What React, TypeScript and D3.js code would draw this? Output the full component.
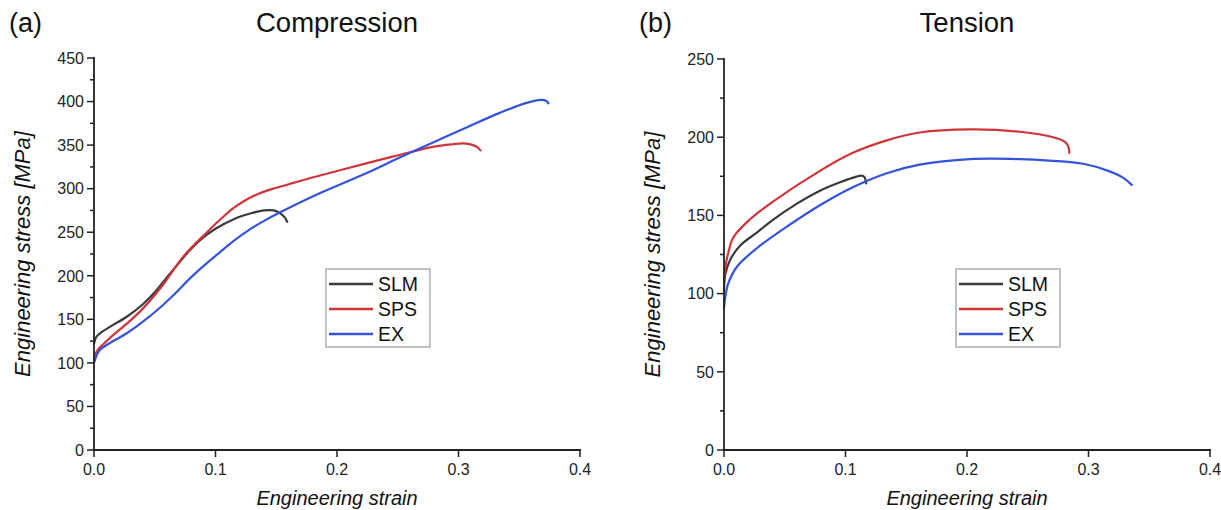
import React from "react";
import * as d3 from "d3";

// ---------- DATA ----------
const seriesNames = ["SLM", "SPS", "EX"];
const seriesColors = ["#3a3a3a", "#d0343a", "#3453dc"];

// Compression (a)
const compSLMStrain = [0, 0.002, 0.006, 0.015, 0.027, 0.04, 0.05, 0.06, 0.07, 0.08, 0.09, 0.1, 0.115, 0.13, 0.14, 0.148, 0.153, 0.157, 0.159];
const compSLMStress = [122, 130, 135, 143, 153, 167, 181, 198, 215, 231, 244, 254, 265, 272, 275, 275, 272, 267, 262];
const compSPSStrain = [0, 0.003, 0.008, 0.015, 0.027, 0.04, 0.057, 0.0735, 0.093, 0.105, 0.115, 0.125, 0.135, 0.15, 0.165, 0.183, 0.224, 0.252, 0.279, 0.295, 0.304, 0.312, 0.316, 0.318];
const compSPSStress = [106, 115, 122, 131, 145, 162, 190, 222, 250, 266, 278, 287, 294, 301, 307, 314, 329, 339, 348, 351, 352, 350, 347, 344];
const compEXStrain = [0, 0.002, 0.005, 0.012, 0.027, 0.04, 0.054, 0.067, 0.079, 0.09, 0.101, 0.115, 0.128, 0.14, 0.152, 0.183, 0.2245, 0.252, 0.279, 0.307, 0.334, 0.356, 0.368, 0.372, 0.374];
const compEXStress = [100, 108, 115, 122, 134, 147, 163, 180, 197, 211, 224, 240, 253, 263, 272, 293, 318, 336, 353, 370.5, 387, 398.5, 402, 401, 398];

// Tension (b)
const tensSLMStrain = [0, 0.001, 0.005, 0.013, 0.027, 0.04, 0.06, 0.079, 0.0955, 0.109, 0.113, 0.1155, 0.117];
const tensSLMStress = [102, 112, 121.5, 130.5, 139, 147, 157.5, 165.8, 171.2, 174.8, 175.4, 174.5, 170.5];
const tensSPSStrain = [0, 0.001, 0.002, 0.0035, 0.0077, 0.0214, 0.0406, 0.079, 0.106, 0.134, 0.161, 0.2025, 0.2436, 0.271, 0.2807, 0.2834, 0.2842];
const tensSPSStress = [108, 116, 121, 126, 136, 147.5, 159, 178.5, 190, 198, 203, 205, 203.5, 200, 197, 194, 190];
const tensEXStrain = [0, 0.0015, 0.0035, 0.0105, 0.027, 0.054, 0.08, 0.106, 0.134, 0.161, 0.2025, 0.2436, 0.268, 0.2957, 0.318, 0.3286, 0.3356];
const tensEXStress = [91, 100, 106.5, 117, 129, 144, 157, 168, 177, 182.5, 186, 186, 185, 183, 178, 174, 169.5];

const strainTicks = [0, 0.1, 0.2, 0.3, 0.4];
const compStressTicks = [0, 50, 100, 150, 200, 250, 300, 350, 400, 450];
const tensStressTicks = [0, 50, 100, 150, 200, 250];

const FONT = "'Liberation Sans', Arial, Helvetica, sans-serif";

type Series = { strain: number[]; stress: number[] };

type PanelProps = {
  letter: string;
  title: string;
  x0: number;
  x1: number;
  yTop: number;
  yBottom: number;
  yMax: number;
  yTicks: number[];
  series: Series[];
  legendX: number;
  legendY: number;
  letterX: number;
  yLabelX: number;
};

function Panel(p: PanelProps) {
  const x = d3.scaleLinear().domain([0, 0.4]).range([p.x0, p.x1]);
  const y = d3.scaleLinear().domain([0, p.yMax]).range([p.yBottom, p.yTop]);
  const line = d3
    .line<[number, number]>()
    .x((d) => x(d[0]))
    .y((d) => y(d[1]))
    .curve(d3.curveCatmullRom.alpha(0.5));
  const step = p.yTicks[1] - p.yTicks[0];
  const minor = p.yTicks.slice(0, -1).map((t) => t + step / 2);
  const cx = (p.x0 + p.x1) / 2;
  const axisColor = "#222";
  return (
    <g>
      <text x={p.letterX} y={32} fontFamily={FONT} fontSize={27} fill="#111">
        {p.letter}
      </text>
      <text x={cx} y={32} fontFamily={FONT} fontSize={27.5} fill="#111" textAnchor="middle">
        {p.title}
      </text>
      {/* curves */}
      {p.series.map((s, i) => (
        <path
          key={i}
          d={line(s.strain.map((v, k) => [v, s.stress[k]] as [number, number])) || ""}
          fill="none"
          stroke={seriesColors[i]}
          strokeWidth={2.2}
          strokeLinejoin="round"
          strokeLinecap="round"
        />
      ))}
      {/* axes */}
      <line x1={p.x0} x2={p.x0} y1={y(p.yMax) - 1} y2={p.yBottom} stroke={axisColor} strokeWidth={1.8} />
      <line x1={p.x0 - 1} x2={p.x1 + 1} y1={p.yBottom} y2={p.yBottom} stroke={axisColor} strokeWidth={1.8} />
      {p.yTicks.map((t) => (
        <g key={"y" + t}>
          <line x1={p.x0 - 7} x2={p.x0} y1={y(t)} y2={y(t)} stroke={axisColor} strokeWidth={1.5} />
          <text x={p.x0 - 10} y={y(t)} dy="0.36em" textAnchor="end" fontFamily={FONT} fontSize={16} fill="#222">
            {t}
          </text>
        </g>
      ))}
      {minor.map((t) => (
        <line key={"m" + t} x1={p.x0 - 4} x2={p.x0} y1={y(t)} y2={y(t)} stroke={axisColor} strokeWidth={1.5} />
      ))}
      {strainTicks.map((t) => (
        <g key={"x" + t}>
          <line x1={x(t)} x2={x(t)} y1={p.yBottom} y2={p.yBottom + 7} stroke={axisColor} strokeWidth={1.5} />
          <text x={x(t)} y={p.yBottom + 25} textAnchor="middle" fontFamily={FONT} fontSize={16} fill="#222">
            {t.toFixed(1)}
          </text>
        </g>
      ))}
      <text x={cx} y={505} textAnchor="middle" fontFamily={FONT} fontSize={20} fontStyle="italic" fill="#111">
        Engineering strain
      </text>
      <text
        transform={`translate(${p.yLabelX},${(p.yTop + p.yBottom) / 2}) rotate(-90)`}
        textAnchor="middle"
        fontFamily={FONT}
        fontSize={22}
        fontStyle="italic"
        fill="#111"
      >
        Engineering stress [MPa]
      </text>
      {/* legend */}
      <g transform={`translate(${p.legendX},${p.legendY})`}>
        <rect x={0} y={0} width={104} height={78} fill="#fff" stroke="#9a9a9a" strokeWidth={1.2} />
        {seriesNames.map((n, i) => (
          <g key={n} transform={`translate(0,${15 + i * 25})`}>
            <line x1={3} x2={47} y1={0} y2={0} stroke={seriesColors[i]} strokeWidth={2.4} />
            <text x={52} y={0} dy="0.36em" fontFamily={FONT} fontSize={19.5} fill="#111">
              {n}
            </text>
          </g>
        ))}
      </g>
    </g>
  );
}

export default function App() {
  const comp: Series[] = [
    { strain: compSLMStrain, stress: compSLMStress },
    { strain: compSPSStrain, stress: compSPSStress },
    { strain: compEXStrain, stress: compEXStress },
  ];
  const tens: Series[] = [
    { strain: tensSLMStrain, stress: tensSLMStress },
    { strain: tensSPSStrain, stress: tensSPSStress },
    { strain: tensEXStrain, stress: tensEXStress },
  ];
  return (
    <svg
      width={1221}
      height={510}
      style={{ position: "absolute", left: 0, top: 0, background: "#fff" }}
    >
      <rect x={0} y={0} width={1221} height={510} fill="#fff" />
      <Panel
        letter="(a)"
        title="Compression"
        x0={94}
        x1={580}
        yTop={58}
        yBottom={450}
        yMax={450}
        yTicks={compStressTicks}
        series={comp}
        legendX={326}
        legendY={269}
        letterX={9}
        yLabelX={30}
      />
      <Panel
        letter="(b)"
        title="Tension"
        x0={724}
        x1={1210}
        yTop={59}
        yBottom={450}
        yMax={250}
        yTicks={tensStressTicks}
        series={tens}
        legendX={956}
        legendY={269}
        letterX={639}
        yLabelX={660}
      />
    </svg>
  );
}
